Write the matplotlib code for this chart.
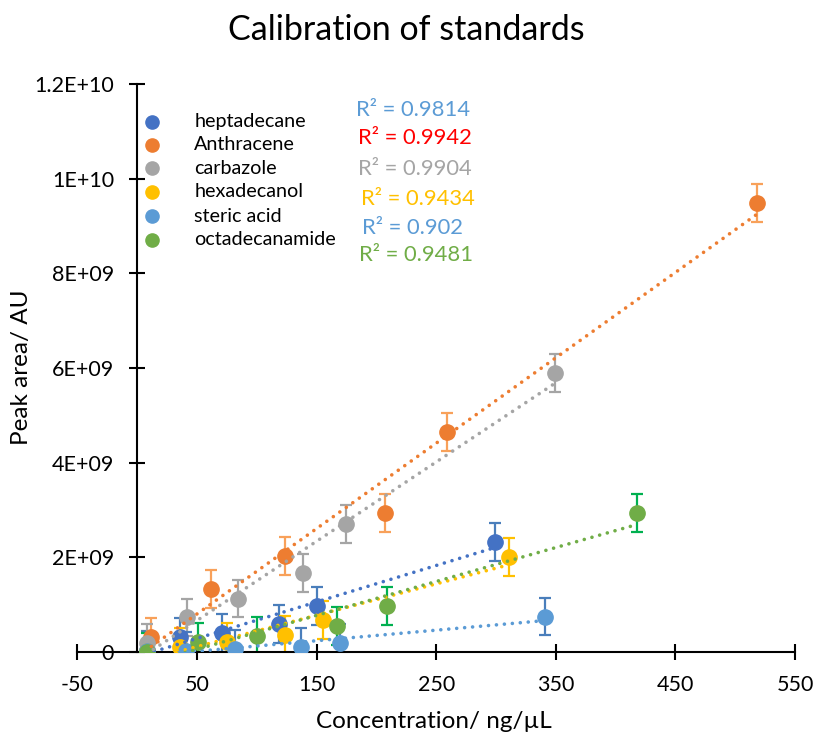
import numpy as np
import matplotlib
matplotlib.use("Agg")
import matplotlib.pyplot as plt

plt.rcParams['font.family'] = ['Lato', 'DejaVu Sans']
plt.rcParams['axes.unicode_minus'] = False

# concentration (ng/uL) and peak area (AU) for each standard
hepta_x = [8, 36, 71, 119, 150, 299]
hepta_y = [0.05e9, 0.32e9, 0.41e9, 0.59e9, 0.97e9, 2.33e9]

anth_x = [12, 62, 124, 207, 259, 518]
anth_y = [0.32e9, 1.34e9, 2.02e9, 2.93e9, 4.64e9, 9.48e9]

carb_x = [8, 42, 84, 139, 175, 349]
carb_y = [0.19e9, 0.73e9, 1.13e9, 1.67e9, 2.70e9, 5.89e9]

hexa_x = [8, 36, 75, 124, 155, 311]
hexa_y = [0.02e9, 0.11e9, 0.22e9, 0.36e9, 0.67e9, 2.01e9]

steric_x = [8, 41, 82, 137, 170, 341]
steric_y = [0.02e9, 0.03e9, 0.06e9, 0.10e9, 0.20e9, 0.75e9]

amide_x = [8, 51, 100, 167, 209, 418]
amide_y = [0.0, 0.22e9, 0.34e9, 0.55e9, 0.97e9, 2.94e9]

err = 0.4e9

names = ['heptadecane', 'Anthracene', 'carbazole', 'hexadecanol', 'steric acid', 'octadecanamide']
r2_labels = ['R² = 0.9814', 'R² = 0.9942', 'R² = 0.9904', 'R² = 0.9434', 'R² = 0.902', 'R² = 0.9481']

xs = [hepta_x, anth_x, carb_x, hexa_x, steric_x, amide_x]
ys = [hepta_y, anth_y, carb_y, hexa_y, steric_y, amide_y]
colors = ['#4472C4', '#ED7D31', '#A5A5A5', '#FFC000', '#5B9BD5', '#70AD47']
err_colors = ['#4A7EBB', '#F8A15A', '#A5A5A5', '#FFC000', '#4A7EBB', '#00B050']
r2_colors = ['#5B9BD5', '#FF0000', '#A5A5A5', '#FFC000', '#5B9BD5', '#70AD47']

fig = plt.figure(figsize=(8.15, 7.37), dpi=100)
ax = fig.add_axes([0.0948, 0.1153, 0.8807, 0.7707])

for i in range(len(names)):
    x = np.array(xs[i])
    y = np.array(ys[i])
    ax.errorbar(x, y, yerr=err, fmt='none', ecolor=err_colors[i],
                elinewidth=1.6, capsize=4.5, capthick=1.6, zorder=2 + i * 0.1)
    ax.plot(x, y, 'o', color=colors[i], markersize=11, zorder=3 + i * 0.1)
    # linear trendline (dotted, like excel)
    k, b = np.polyfit(x, y, 1)
    xl = np.array([x.min(), x.max()])
    ax.plot(xl, k * xl + b, color=colors[i], linewidth=2.6,
            linestyle=(0, (0.01, 2.2)), dash_capstyle='round', zorder=4)

ax.set_xlim(-50, 550)
ax.set_ylim(0, 1.2e10)
ax.set_xticks([-50, 50, 150, 250, 350, 450, 550])
ax.set_yticks([0, 2e9, 4e9, 6e9, 8e9, 1e10, 1.2e10])
ax.set_yticklabels(['0', '2E+09', '4E+09', '6E+09', '8E+09', '1E+10', '1.2E+10'])

ax.spines['left'].set_position(('data', 0))
ax.spines['top'].set_visible(False)
ax.spines['right'].set_visible(False)
for s in ['left', 'bottom']:
    ax.spines[s].set_linewidth(1.5)
ax.tick_params(direction='inout', length=11, width=1.5, labelsize=15.5, pad=11)

ax.set_xlabel('Concentration/ ng/µL', fontsize=17.5)
ax.xaxis.set_label_coords(0.497, -0.104)
ax.set_ylabel('Peak area/ AU', fontsize=17.5)
ax.yaxis.set_label_coords(-0.063, 0.502)
fig.text(406 / 815, 1 - 30 / 737, 'Calibration of standards', fontsize=24.5,
         ha='center', va='center')

# legend drawn by hand (marker + name)
leg_y = [0.9336, 0.8935, 0.8521, 0.8099, 0.7676, 0.7254]
for i in range(len(names)):
    ax.plot([0.104], [leg_y[i]], 'o', color=colors[i], markersize=9.5,
            transform=ax.transAxes, clip_on=False)
    ax.text(0.163, leg_y[i], names[i], fontsize=14.2, transform=ax.transAxes,
            va='center', ha='left')

r2_x = [0.3883, 0.3911, 0.3911, 0.3953, 0.3967, 0.3925]
r2_y = [0.9551, 0.9055, 0.8504, 0.7975, 0.7470, 0.6981]
for i in range(len(r2_labels)):
    ax.text(r2_x[i], r2_y[i], r2_labels[i], color=r2_colors[i],
            fontsize=15.8, transform=ax.transAxes, va='center', ha='left')

fig.savefig('out.png', dpi=100)
